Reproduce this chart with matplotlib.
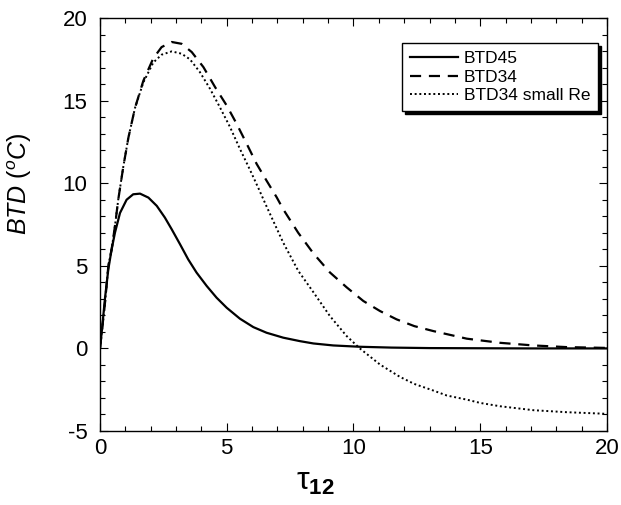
import numpy as np
import matplotlib
matplotlib.use("Agg")
import matplotlib.pyplot as plt
from matplotlib.ticker import MultipleLocator

plt.rcParams['font.family'] = ['Liberation Sans', 'DejaVu Sans']
plt.rcParams['mathtext.fontset'] = 'custom'
plt.rcParams['mathtext.rm'] = 'Liberation Sans'
plt.rcParams['mathtext.it'] = 'Liberation Sans:italic'
plt.rcParams['mathtext.bf'] = 'Liberation Sans:bold'
plt.rcParams['axes.unicode_minus'] = False

# --- data ---
tau45 = [0, 0.066, 0.2, 0.33, 0.46, 0.59, 0.79, 1.05, 1.31, 1.58, 1.91, 2.24,
         2.56, 2.83, 3.16, 3.48, 3.81, 4.21, 4.6, 5.0, 5.52, 6.05, 6.57, 7.23,
         7.89, 8.42, 9.2, 10.25, 11.5, 13, 15, 17, 20]
btd45 = [0, 0.95, 3.07, 4.8, 6.0, 7.0, 8.2, 9.0, 9.33, 9.37, 9.13, 8.63,
         7.92, 7.21, 6.3, 5.39, 4.59, 3.78, 3.07, 2.46, 1.8, 1.29, 0.95, 0.65,
         0.44, 0.3, 0.18, 0.1, 0.05, 0.02, 0.01, 0, 0]

tau34 = [0, 0.2, 0.33, 0.46, 0.59, 0.72, 0.92, 1.12, 1.38, 1.71, 2.1, 2.43, 2.83,
         3.22, 3.62, 4.08, 4.54, 5.0, 5.39, 5.79, 6.18, 6.57, 6.97, 7.23, 7.82,
         8.42, 9.07, 9.73, 10.39, 11.05, 11.7, 12.4, 13.15, 14.47, 15.78, 17.1,
         18.4, 20]
btd34 = [0, 2.8, 5.0, 6.0, 7.4, 9.0, 11.0, 12.75, 14.55, 16.2, 17.55, 18.24, 18.55,
         18.44, 17.94, 17.03, 15.82, 14.7, 13.6, 12.38, 11.17, 10.16, 9.15, 8.42, 7.0,
         5.75, 4.6, 3.7, 2.87, 2.26, 1.76, 1.35, 1.05, 0.59, 0.34, 0.18,
         0.08, 0.03]

tau_sr = [0, 0.2, 0.33, 0.46, 0.59, 0.72, 0.92, 1.12, 1.38, 1.71, 2.1, 2.43, 2.83,
          3.22, 3.55, 3.94, 4.34, 4.73, 5.13, 5.52, 5.92, 6.25, 6.57, 6.9, 7.23,
          7.82, 8.42, 9.07, 9.73, 10.25, 11.05, 11.83, 12.4, 13.15, 13.68, 14.47,
          15.0, 15.78, 17.1, 18.4, 20]
btd_sr = [0, 2.8, 5.0, 6.0, 7.4, 9.0, 11.0, 12.75, 14.55, 16.1, 17.3, 17.78, 17.98,
          17.84, 17.5, 16.73, 15.72, 14.6, 13.4, 12.08, 10.8, 9.7, 8.6, 7.5, 6.4,
          4.7, 3.4, 1.96, 0.75, 0.0, -0.98, -1.72, -2.15, -2.55, -2.85, -3.1,
          -3.3, -3.5, -3.74, -3.86, -3.96]

fig = plt.figure(figsize=(6.21, 5.05), dpi=100)
ax = fig.add_axes([0.161, 0.1465, 0.8164, 0.8178])

ax.plot(tau45, btd45, 'k-', lw=1.6, label='BTD45')
ax.plot(tau34, btd34, color='k', lw=1.6, linestyle=(0, (5, 3.5)), label='BTD34')
ax.plot(tau_sr, btd_sr, color='k', lw=1.4, linestyle=(0, (1, 1.4)), label='BTD34 small Re')

ax.set_xlim(0, 20)
ax.set_ylim(-5, 20)
ax.xaxis.set_major_locator(MultipleLocator(5))
ax.xaxis.set_minor_locator(MultipleLocator(1))
ax.yaxis.set_major_locator(MultipleLocator(5))
ax.yaxis.set_minor_locator(MultipleLocator(1))
ax.tick_params(which='both', direction='in', top=True, right=True, width=0.8)
ax.tick_params(which='major', length=6, labelsize=16)
ax.tick_params(which='minor', length=3.5)
ax.tick_params(axis='x', pad=5)
ax.tick_params(axis='y', pad=9)
for s in ax.spines.values():
    s.set_linewidth(1.0)

ax.set_ylabel(r'$\mathit{BTD\ (^{o}C)}$', fontsize=18)
ax.yaxis.set_label_coords(-0.13, 0.6)
ax.set_xlabel(r'$\mathrm{\tau}_{\mathbf{12}}$', fontsize=23)
ax.xaxis.set_label_coords(0.425, -0.088)

leg = ax.legend(loc='upper right', bbox_to_anchor=(0.982, 0.939), fontsize=12.5,
                frameon=True, fancybox=False, edgecolor='k', handlelength=2.8,
                handletextpad=0.3, labelspacing=0.2, borderpad=0.45,
                borderaxespad=0, shadow={'color': 'black', 'alpha': 1})
leg.get_frame().set_linewidth(1.0)

fig.savefig('out.png', dpi=100)
